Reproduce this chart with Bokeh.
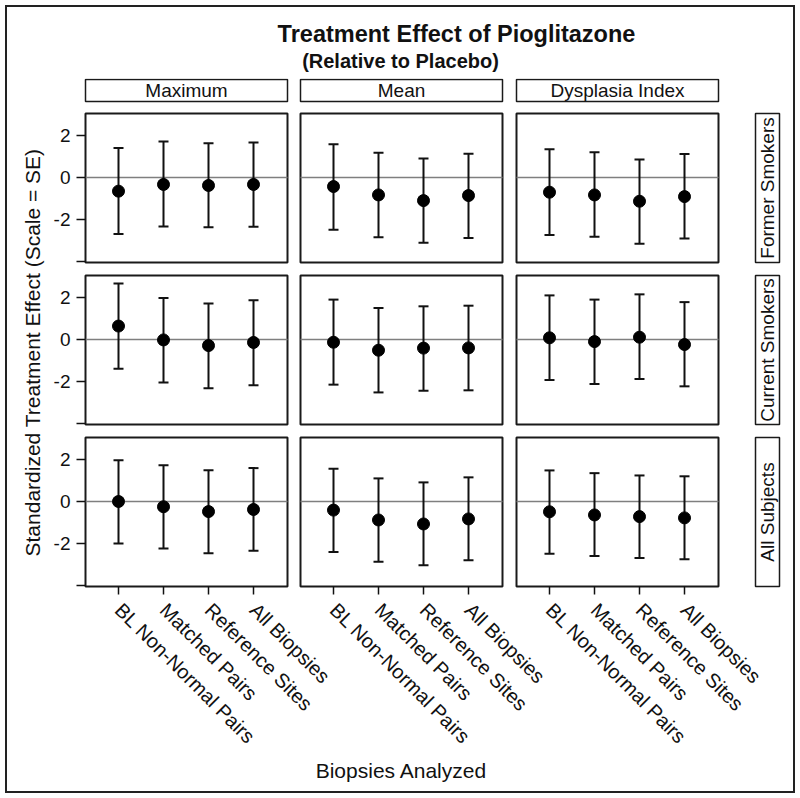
from math import pi
from bokeh.plotting import figure
from bokeh.models import Range1d, FixedTicker, ColumnDataSource, LinearAxis
from bokeh.embed import file_html
from bokeh.resources import INLINE
from bokeh.core.properties import value

# ---------------- data ----------------
title = "Treatment Effect of Pioglitazone"
subtitle = "(Relative to Placebo)"
x_title = "Biopsies Analyzed"
y_title = "Standardized Treatment Effect (Scale = SE)"
metrics = ["Maximum", "Mean", "Dysplasia Index"]
groups = ["Former Smokers", "Current Smokers", "All Subjects"]
biopsies = ["BL Non-Normal Pairs", "Matched Pairs", "Reference Sites", "All Biopsies"]
y_ticks = [2, 0, -2, -4]
y_tick_labels = ["2", "0", "-2", ""]

# per group: rows = metrics (Maximum, Mean, Dysplasia Index), cols = biopsies
est_former = [[-0.65, -0.33, -0.38, -0.33],
              [-0.43, -0.83, -1.10, -0.86],
              [-0.70, -0.83, -1.13, -0.91]]
lo_former = [[-2.69, -2.33, -2.37, -2.34],
             [-2.49, -2.84, -3.11, -2.88],
             [-2.74, -2.82, -3.16, -2.90]]
hi_former = [[1.40, 1.71, 1.63, 1.67],
             [1.58, 1.18, 0.91, 1.13],
             [1.34, 1.20, 0.86, 1.12]]

est_current = [[0.64, -0.02, -0.29, -0.14],
               [-0.13, -0.51, -0.41, -0.40],
               [0.08, -0.10, 0.11, -0.24]]
lo_current = [[-1.39, -2.05, -2.32, -2.18],
              [-2.15, -2.52, -2.44, -2.42],
              [-1.93, -2.12, -1.88, -2.23]]
hi_current = [[2.67, 1.98, 1.71, 1.87],
              [1.90, 1.50, 1.58, 1.61],
              [2.10, 1.90, 2.15, 1.78]]

est_all = [[0.00, -0.25, -0.48, -0.38],
           [-0.41, -0.88, -1.07, -0.83],
           [-0.49, -0.64, -0.72, -0.78]]
lo_all = [[-2.00, -2.24, -2.46, -2.35],
          [-2.41, -2.87, -3.04, -2.80],
          [-2.49, -2.60, -2.69, -2.75]]
hi_all = [[1.97, 1.73, 1.49, 1.59],
          [1.56, 1.10, 0.91, 1.15],
          [1.48, 1.35, 1.24, 1.20]]

group_data = [(est_former, lo_former, hi_former),
              (est_current, lo_current, hi_current),
              (est_all, lo_all, hi_all)]

# ---------------- layout (pixels) ----------------
FONT = "Liberation Sans"
INK = "#111"
FIG_W, FIG_H = 800, 798
ML, MR, MT, MB = 83, 19, 78, 210
FW = FIG_W - ML - MR          # 698
FH = FIG_H - MT - MB          # 510
XU = 45.0                     # px per category step
YU = 21.0                     # px per SE unit
COL_LEFT = [2, 217, 433]
PANEL_W = 202
FIRST_CAT = 33
ROW_BOTTOM = [326, 164, 2]
PANEL_H = 149
ZERO_AT = 85
STRIP_B, STRIP_T = 487, 509
RSTRIP_L, RSTRIP_R = 672, 696
CAP = 5.0                     # half width of error bar caps, px


def gx(j, pos):
    return (COL_LEFT[j] + FIRST_CAT) / XU + (pos - 1)


def gy(r, v):
    return (ROW_BOTTOM[r] + ZERO_AT) / YU + v


def at_x(page_px):
    return (page_px - ML) / XU


def at_y(page_px):
    return (MT + FH - page_px) / YU


p = figure(width=FIG_W, height=FIG_H, output_backend="svg", toolbar_location=None, title=None,
           x_range=Range1d(0, FW / XU), y_range=Range1d(0, FH / YU),
           min_border_left=ML, min_border_right=MR, min_border_top=MT, min_border_bottom=MB)
p.outline_line_color = None
p.xgrid.visible = False
p.ygrid.visible = False
p.background_fill_color = "white"
p.border_fill_color = "white"
p.border_fill_alpha = 0.0
p.styles = {"outline": "2px solid #222", "outline-offset": "-7px"}

# panels
pl, pr, pb, pt = [], [], [], []
for r in range(3):
    for j in range(3):
        pl.append(COL_LEFT[j] / XU)
        pr.append((COL_LEFT[j] + PANEL_W) / XU)
        pb.append(ROW_BOTTOM[r] / YU)
        pt.append((ROW_BOTTOM[r] + PANEL_H) / YU)
p.quad(left=pl, right=pr, bottom=pb, top=pt, fill_color="white",
       line_color="#1a1a1a", line_width=2)

zy = [gy(r, 0) for r in range(3) for j in range(3)]
p.segment(x0=pl, x1=pr, y0=zy, y1=zy, line_color="#7f7f7f", line_width=1.5)

# top strips
sl = [COL_LEFT[j] / XU for j in range(3)]
sr = [(COL_LEFT[j] + PANEL_W) / XU for j in range(3)]
p.quad(left=sl, right=sr, bottom=[STRIP_B / YU] * 3, top=[STRIP_T / YU] * 3,
       fill_color="white", line_color="#1a1a1a", line_width=1.5)
p.text(x=[(a + b) / 2 for a, b in zip(sl, sr)], y=[(STRIP_B + STRIP_T) / 2 / YU] * 3,
       text=metrics, text_font=value(FONT), text_font_size="19px",
       text_align="center", text_baseline="middle", text_color=INK)

# right strips
rb = [ROW_BOTTOM[r] / YU for r in range(3)]
rt = [(ROW_BOTTOM[r] + PANEL_H) / YU for r in range(3)]
p.quad(left=[RSTRIP_L / XU] * 3, right=[RSTRIP_R / XU] * 3, bottom=rb, top=rt,
       fill_color="white", line_color="#1a1a1a", line_width=1.5)
p.text(x=[(RSTRIP_L + RSTRIP_R) / 2 / XU] * 3, y=[(a + b) / 2 for a, b in zip(rb, rt)],
       text=groups, angle=pi / 2, text_font=value(FONT), text_font_size="19px",
       text_align="center", text_baseline="middle", text_color=INK)

# estimates with error bars
xs, ys, los, his = [], [], [], []
for r, (est, lo, hi) in enumerate(group_data):
    for j in range(3):
        for i in range(4):
            xs.append(gx(j, i + 1))
            ys.append(gy(r, est[j][i]))
            los.append(gy(r, lo[j][i]))
            his.append(gy(r, hi[j][i]))
cw = CAP / XU
src = ColumnDataSource(dict(x=xs, y=ys, lo=los, hi=his,
                            cl=[x - cw for x in xs], cr=[x + cw for x in xs]))
p.segment(x0="x", x1="x", y0="lo", y1="hi", source=src, line_color=INK, line_width=2)
p.segment(x0="cl", x1="cr", y0="lo", y1="lo", source=src, line_color=INK, line_width=2)
p.segment(x0="cl", x1="cr", y0="hi", y1="hi", source=src, line_color=INK, line_width=2)
p.scatter(x="x", y="y", source=src, size=12, fill_color="black", line_color="black")

# y axis
yt, yov = [], {}
for r in range(3):
    for v, lab in zip(y_ticks, y_tick_labels):
        t = gy(r, v)
        yt.append(t)
        yov[t] = lab
p.yaxis.ticker = FixedTicker(ticks=yt)
p.yaxis.major_label_overrides = yov
p.yaxis.axis_line_color = None
p.yaxis.major_tick_out = 7
p.yaxis.major_tick_in = 2
p.yaxis.major_tick_line_width = 1.5
p.yaxis.major_tick_line_color = INK
p.yaxis.minor_tick_line_color = None
p.yaxis.major_label_text_font = FONT
p.yaxis.major_label_text_font_size = "19px"
p.yaxis.major_label_text_color = INK
p.yaxis.major_label_standoff = 6

# x axis
xt, xov = [], {}
for j in range(3):
    for i, lab in enumerate(biopsies):
        t = gx(j, i + 1)
        xt.append(t)
        xov[t] = lab
p.xaxis.ticker = FixedTicker(ticks=xt)
p.xaxis.major_label_overrides = xov
p.xaxis.axis_line_color = None
p.xaxis.major_tick_out = 6
p.xaxis.major_tick_in = 2
p.xaxis.major_tick_line_width = 1.5
p.xaxis.major_tick_line_color = INK
p.xaxis.minor_tick_line_color = None
p.xaxis.major_label_orientation = -pi / 4
p.xaxis.major_label_text_font = FONT
p.xaxis.major_label_text_font_size = "20px"
p.xaxis.major_label_text_color = INK
p.xaxis.major_label_standoff = 12


# titles, drawn as single labelled positions on extra axes
def text_axis(side, pos, label, size, bold=False, standoff=0, orientation="horizontal"):
    ax = LinearAxis(ticker=FixedTicker(ticks=[pos]), major_label_overrides={pos: label},
                    axis_line_color=None, major_tick_line_color=None,
                    minor_tick_line_color=None, major_tick_in=0, major_tick_out=0,
                    major_label_standoff=standoff, major_label_text_font=FONT,
                    major_label_text_font_size=size,
                    major_label_text_font_style="bold" if bold else "normal",
                    major_label_text_color=INK, major_label_orientation=orientation)
    p.add_layout(ax, side)


text_axis("above", at_x(400), subtitle, "20px", bold=True, standoff=7)
text_axis("above", at_x(456), title, "23.5px", bold=True, standoff=0)
text_axis("left", at_y(352), y_title, "21px", standoff=7, orientation="vertical")
text_axis("below", at_x(401), x_title, "21px", standoff=0)

open("out.html", "w").write(file_html(p, INLINE))
